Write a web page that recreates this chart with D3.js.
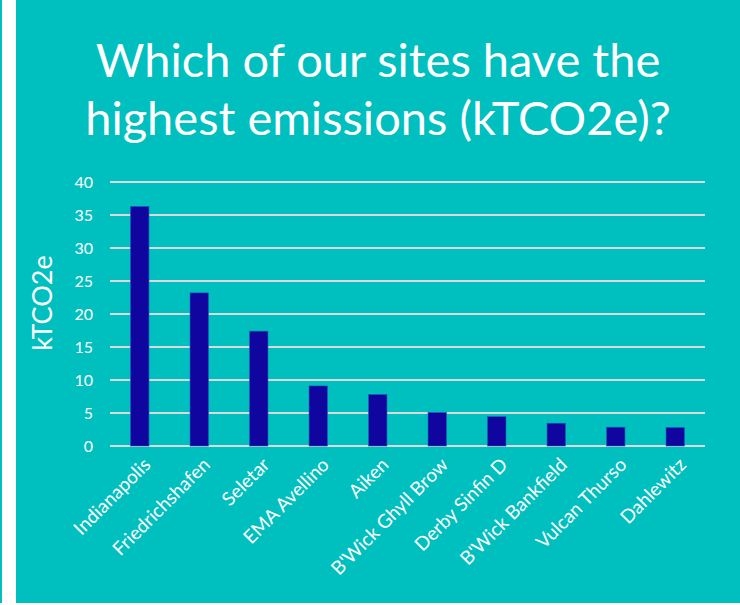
<!DOCTYPE html>
<meta charset="utf-8">
<style>
body {
  margin: 0;
  background-color: #ffffff;
}
svg text {
  font-family: Lato, "Open Sans", sans-serif;
  fill: #ffffff;
}
.grid line {
  stroke: #d9d9d9;
  stroke-width: 2px;
  shape-rendering: crispEdges;
}
.axis path,
.axis line {
  display: none;
}
.bar {
  fill: #10069f;
  stroke: #1f5fb0;
  stroke-width: 0.6px;
}
</style>
<body>
<script src="https://cdnjs.cloudflare.com/ajax/libs/d3/7.8.5/d3.min.js"></script>
<script>
// sites ranked by emissions
var sites = ["Indianapolis", "Friedrichshafen", "Seletar", "EMA Avellino", "Aiken",
             "B'Wick Ghyll Brow", "Derby Sinfin D", "B'Wick Bankfield", "Vulcan Thurso", "Dahlewitz"];
var emissions = [36.3, 23.2, 17.4, 9.1, 7.8, 5.1, 4.45, 3.45, 2.85, 2.8];
var yTicks = [0, 5, 10, 15, 20, 25, 30, 35, 40];
var titleLines = ["Which of our sites have the", "highest emissions (kTCO2e)?"];

var svg = d3.select("body")
    .append("svg")
    .attr("width", 740)
    .attr("height", 605),
    margin = {top: 182, right: 35, bottom: 159, left: 110},
    width = 740 - margin.left - margin.right,
    height = 605 - margin.top - margin.bottom;

// teal panel with the white strip at the left
svg.append("rect")
    .attr("x", 0).attr("y", 0)
    .attr("width", 740).attr("height", 603)
    .attr("fill", "#00bfbf");
svg.append("rect")
    .attr("x", 2).attr("y", 0)
    .attr("width", 14).attr("height", 605)
    .attr("fill", "#ffffff");

svg.append("g")
    .selectAll("text")
    .data(titleLines)
    .enter().append("text")
      .attr("x", 378)
      .attr("y", function(d, i) { return 77 + i * 58; })
      .attr("text-anchor", "middle")
      .style("font-size", "47px")
      .text(function(d) { return d; });

var x = d3.scaleBand().domain(sites).range([0, width]).paddingInner(0.69).paddingOuter(0.345);
var y = d3.scaleLinear().domain([0, 40]).range([height, 0]);

var g = svg.append("g")
    .attr("transform", "translate(" + margin.left + "," + margin.top + ")");

g.append("g")
    .attr("class", "grid")
    .selectAll("line")
    .data(yTicks)
    .enter().append("line")
      .attr("x1", 0)
      .attr("x2", width)
      .attr("y1", function(d) { return y(d); })
      .attr("y2", function(d) { return y(d); });

g.append("g")
    .attr("class", "axis axis--y")
    .call(d3.axisLeft(y).tickValues(yTicks).tickSize(0).tickPadding(17))
    .selectAll("text")
      .style("font-size", "16px")
      .attr("fill", "#f2f2f2");

g.selectAll(".bar")
    .data(emissions)
    .enter().append("rect")
      .attr("class", "bar")
      .attr("x", function(d, i) { return x(sites[i]); })
      .attr("y", function(d) { return y(d); })
      .attr("width", x.bandwidth())
      .attr("height", function(d) { return height - y(d); });

g.append("g")
    .attr("class", "axis axis--x")
    .attr("transform", "translate(0," + height + ")")
    .call(d3.axisBottom(x).tickSize(0).tickPadding(0))
    .selectAll("text")
      .style("font-size", "19px")
      .attr("fill", "#f2f2f2")
      .attr("text-anchor", "end")
      .attr("dy", null)
      .attr("transform", "translate(12,20) rotate(-45)");

g.select(".axis--y").selectAll("path").remove();
g.select(".axis--x").selectAll("path").remove();

svg.append("text")
    .attr("transform", "translate(52,303) rotate(-90)")
    .attr("text-anchor", "middle")
    .style("font-size", "27px")
    .text("kTCO2e");
</script>
</body>
